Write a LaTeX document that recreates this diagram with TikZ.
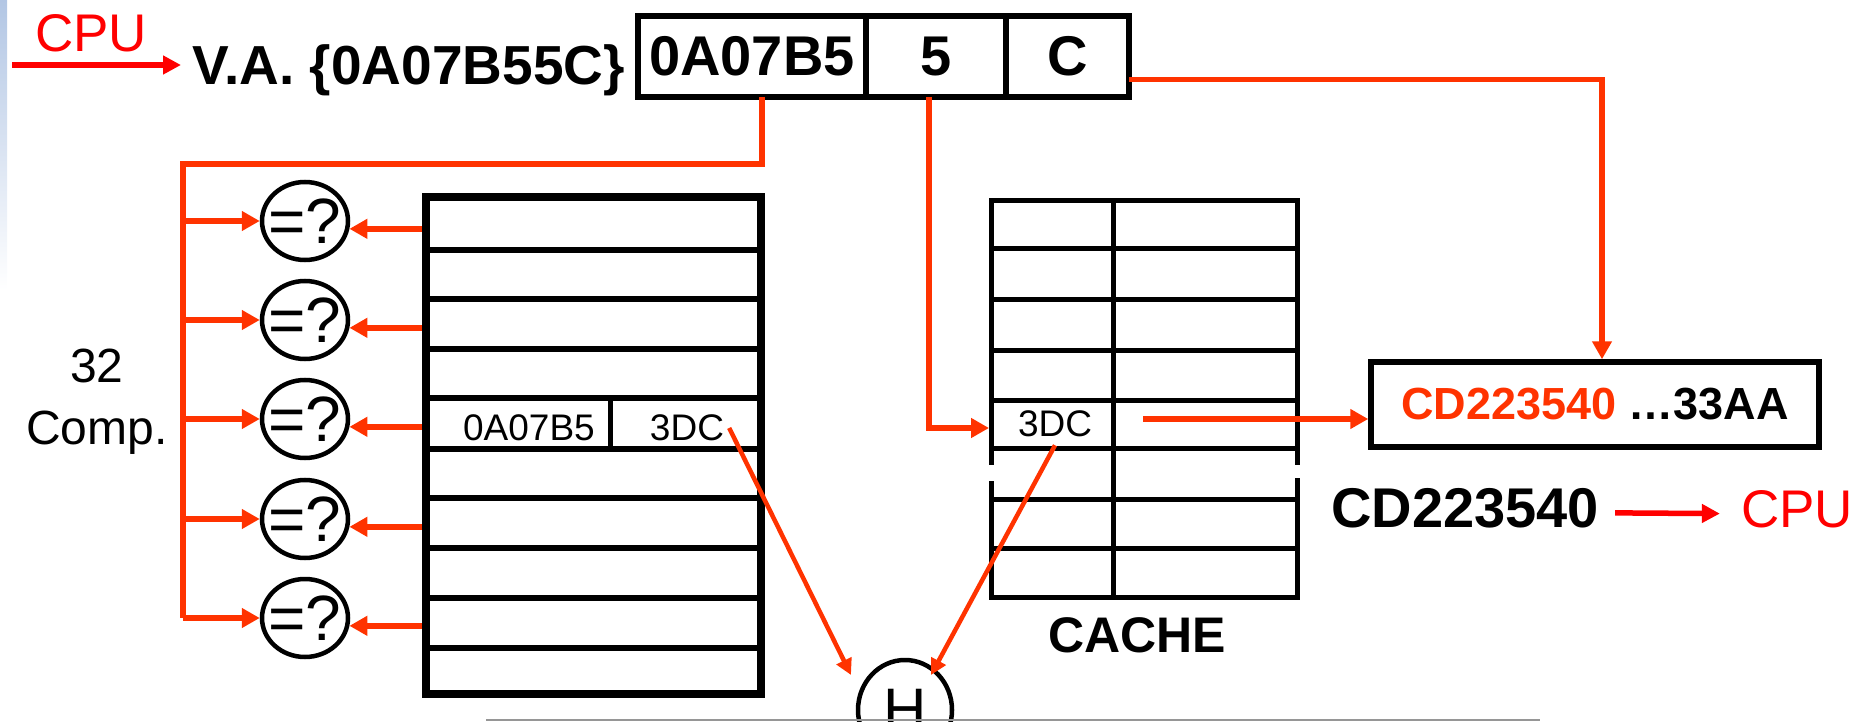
\documentclass[tikz,border=0pt]{standalone}
\usepackage{fontspec}
\setmainfont{Liberation Sans}
\usetikzlibrary{arrows.meta,positioning,shapes.geometric}

\definecolor{tRed}{RGB}{255,0,0}
\definecolor{tOrange}{RGB}{255,51,0}
\definecolor{tEdge}{RGB}{178,198,228}
\definecolor{tRule}{RGB}{150,150,150}

\newcommand{\fsz}[1]{\fontsize{#1}{#1}\selectfont}

\begin{document}
\begin{tikzpicture}[x=1pt, y=-1pt,
  wire/.style={tOrange, line width=5.5pt},
  wireArrow/.style={wire, -{Triangle[length=18pt,width=19pt]}},
  wireThin/.style={tOrange, line width=4.5pt, -{Triangle[length=16pt,width=16pt]}},
  cpuArrow/.style={tRed, line width=5.5pt, -{Triangle[length=18pt,width=18pt]}},
  cellLine/.style={line width=5pt, line cap=rect},
  boldTxt/.style={inner sep=0pt, font=\fsz{56}\bfseries},
  plainTxt/.style={inner sep=0pt, font=\fsz{37}},
  cpuTxt/.style={inner sep=0pt, text=tRed, font=\fsz{53}},
  field/.style={draw, line width=5.5pt, outer sep=0pt, minimum height=81pt, inner sep=0pt, font=\fsz{56}\bfseries},
  cmp/.style={draw, ellipse, line width=4.5pt, minimum width=86pt, minimum height=78pt, inner sep=0pt},
  cmpTxt/.style={inner sep=0pt, font=\fsz{64}}]

  \useasboundingbox (0,0) rectangle (1872,722);
  \shade[top color=tEdge, bottom color=white] (0,0) rectangle (7,290);

  % ---- virtual address ----
  \node[cpuTxt, anchor=base] (cpuIn) at (91,52) {CPU};
  \coordinate (cpuFrom) at (12,65);
  \coordinate (cpuTo) at (181,65);
  \draw[cpuArrow] (cpuFrom) -- (cpuTo);
  \node[boldTxt, font=\fsz{55}\bfseries, anchor=base east] (va) at (625,85) {V.A. \{0A07B55C\}};

  \node[field, minimum width=228pt] (fTag) at (752,56.5) {0A07B5};
  \node[field, minimum width=140pt, right=0pt of fTag] (fIdx) {5};
  \node[field, minimum width=123pt, right=0pt of fIdx] (fOff) {C};

  % ---- TLB ----
  \node[draw, line width=8pt, minimum width=335pt, minimum height=497pt] (tlb) at (593.5,445.5) {};
  \foreach \ry in {250,299,349,398,449,498,548,598,648}
    \draw[line width=6pt] (426,\ry) -- (761,\ry);
  \draw[line width=5pt] (610,398) -- (610,449);
  \node[plainTxt] (tPage) at (529,428) {0A07B5};
  \node[plainTxt] (tFrame) at (687,428) {3DC};

  % ---- comparators ----
  \coordinate (busTop) at (183,164);
  \node[align=center, inner sep=0pt, font=\fontsize{48}{62}\selectfont] (cmpCount) at (97,402) {32\\Comp.};
  \foreach \i/\cy in {1/221,2/320,3/419,4/519,5/618} {
    \node[cmp] (cmp\i) at (305,\cy) {};
    \node[cmpTxt] (cmpTxt\i) at (305,\cy) {=?};
    \coordinate (cmpIn\i) at (cmp\i.-10);
    \draw[wireArrow] (busTop |- cmp\i.west) -- (cmp\i.west);
    \draw[wireArrow] (tlb.west |- cmpIn\i) -- (cmpIn\i);
  }
  \draw[wire] ([xshift=10pt]fTag.south) |- (busTop) -- (busTop |- cmp5.west);

  % ---- cache ----
  \foreach \ry in {201,249,299,350,400,448,499,548,597}
    \draw[cellLine] (991,\ry) -- (1297,\ry);
  \draw[cellLine] (991,201) -- (991,462) (991,483) -- (991,597);
  \draw[cellLine] (1297,201) -- (1297,462) (1297,480) -- (1297,597);
  \draw[cellLine] (1113,201) -- (1113,595);
  \node[plainTxt] (cTag) at (1055,424) {3DC};
  \node[boldTxt, font=\fsz{50}\bfseries] (cacheLbl) at (1137,635) {CACHE};
  \coordinate (cIn) at (989,428);
  \coordinate (cData) at (1143,419);

  % ---- result ----
  \node[draw, line width=5.5pt, minimum width=448pt, minimum height=85pt, font=\fsz{45}\bfseries] (res) at (1595,404.5)
    {\textcolor{tOrange}{CD223540} …33AA};
  \node[boldTxt, anchor=base] (word) at (1465,527) {CD223540};
  \node[cpuTxt, anchor=base] (cpuOut) at (1797,527) {CPU};
  \draw[cpuArrow, shorten <=16pt, shorten >=21pt] ([yshift=-5pt]word.east) -- ([yshift=-5pt]cpuOut.west);

  % ---- hash ----
  \node[draw, ellipse, line width=4.5pt, minimum width=94pt, minimum height=100pt, inner sep=0pt, font=\fsz{60}] (hash) at (905,710) {H};
  \coordinate (hashL) at (851,675);
  \coordinate (hashR) at (931,675);

  % ---- connectors ----
  \draw[wireArrow] ([xshift=-7pt]fIdx.south) |- (cIn);
  \draw[wireArrow] (cData) -- (cData -| res.west);
  \draw[wireArrow] ([yshift=-23pt]fOff.east) -| ([xshift=7pt]res.north);
  \draw[wireThin] ([xshift=5pt]tFrame.east) -- (hashL);
  \draw[wireThin] ([yshift=-8pt]cTag.south) -- (hashR);

  \draw[tRule, line width=2pt] (486,720) -- (1540,720);

\end{tikzpicture}
\end{document}
